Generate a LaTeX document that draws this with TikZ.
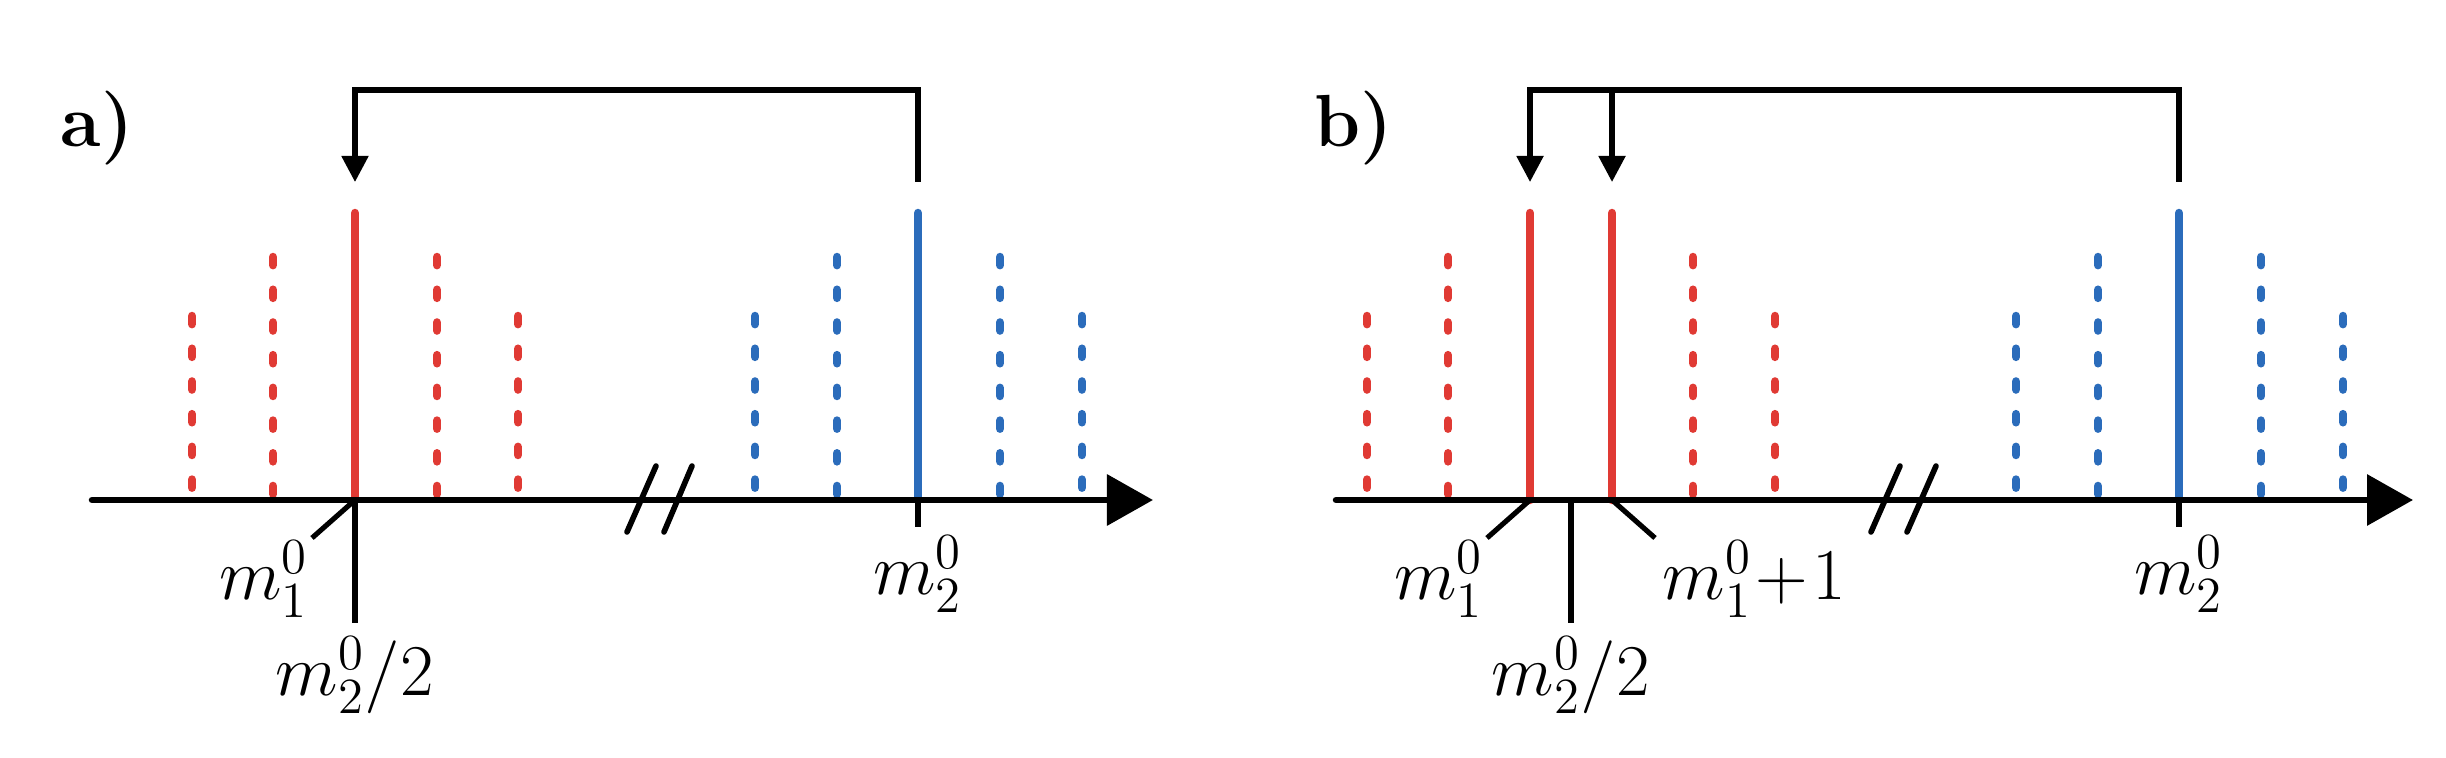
\documentclass[tikz,border=0pt]{standalone}
\usepackage{tikz}
\usetikzlibrary{positioning,arrows.meta}
\definecolor{peakred}{RGB}{224,58,52}
\definecolor{peakblue}{RGB}{43,108,187}

\begin{document}
\begin{tikzpicture}[x=0.01cm,y=-0.01cm,
                      >={Triangle[length=0.26cm,width=0.26cm]},
                      axis/.style={line width=1.85pt,line cap=round,-{Triangle[length=0.46cm,width=0.5cm]}},
                      breakmark/.style={line width=1.6pt,line cap=round},
                      peak/.style={line width=2.4pt,line cap=round},
                      sidepeak/.style={peak,dash pattern=on 2.33pt off 6.97pt},
                      feed/.style={line width=1.45pt,->},
                      tick/.style={line width=1.45pt},
                      lbl/.style={inner sep=0pt,font={\fontsize{21}{25}\selectfont}},
                      panel/.style={lbl,font={\fontsize{21}{25}\selectfont\bfseries}}]
    \useasboundingbox (0,0) rectangle (2446,758);
    % panel a
    \node[panel] (a-name) at (97,128) {a)};
    \node[coordinate] (a-axis-start) at (92,500) {};
    \node[coordinate] (a-axis-end) at (1153,500) {};
    \node[coordinate] (a-m1) at (355,500) {};
    \node[coordinate] (a-m2) at (918,500) {};
    \node[coordinate] (a-m1-leader) at (312,538) {};
    \node[coordinate] (a-half-end) at (355,623) {};
    \node[coordinate] (a-m2-end) at (918,527) {};
    \node[coordinate] (a-top-left) at (355,90) {};
    \node[coordinate] (a-top-right) at (918,90) {};
    \node[coordinate] (a-red-feed) at (355,182) {};
    \node[coordinate] (a-blue-feed) at (918,182) {};
    \draw[sidepeak,peakred] (192,316) -- (192,500);
    \draw[sidepeak,peakred] (273,257) -- (273,500);
    \draw[peak,peakred] (355,213) -- (a-m1);
    \draw[sidepeak,peakred] (437,257) -- (437,500);
    \draw[sidepeak,peakred] (518,316) -- (518,500);
    \draw[sidepeak,peakblue] (755,316) -- (755,500);
    \draw[sidepeak,peakblue] (837,257) -- (837,500);
    \draw[peak,peakblue] (918,213) -- (a-m2);
    \draw[sidepeak,peakblue] (1000,257) -- (1000,500);
    \draw[sidepeak,peakblue] (1082,316) -- (1082,500);
    \draw[axis] (a-axis-start) -- (a-axis-end);
    \draw[breakmark] (627,532) -- (656,466);
    \draw[breakmark] (664,532) -- (692,466);
    \draw[feed] (a-blue-feed) -- (a-top-right) -- (a-top-left) -- (a-red-feed);
    \draw[tick] (a-m1) -- (a-half-end);
    \draw[tick] (a-m1) -- (a-m1-leader);
    \draw[tick] (a-m2) -- (a-m2-end);
    \node[lbl,anchor=north east] (a-m1-label) at (309,540) {$m_1^0$};
    \node[lbl,below=0.13cm of a-half-end] (a-half-label) {$m_2^0/2$};
    \node[lbl,below=0.08cm of a-m2-end] (a-m2-label) {$m_2^0$};
    % panel b
    \node[panel] (b-name) at (1354,128) {b)};
    \node[coordinate] (b-axis-start) at (1336,500) {};
    \node[coordinate] (b-axis-end) at (2413,500) {};
    \node[coordinate] (b-m1) at (1530,500) {};
    \node[coordinate] (b-m1-next) at (1612,500) {};
    \node[coordinate] (b-half) at (1571,500) {};
    \node[coordinate] (b-m2) at (2179,500) {};
    \node[coordinate] (b-m1-leader) at (1487,538) {};
    \node[coordinate] (b-next-leader) at (1655,538) {};
    \node[coordinate] (b-half-end) at (1571,623) {};
    \node[coordinate] (b-m2-end) at (2179,527) {};
    \node[coordinate] (b-top-left) at (1530,90) {};
    \node[coordinate] (b-top-mid) at (1612,90) {};
    \node[coordinate] (b-top-right) at (2179,90) {};
    \node[coordinate] (b-red-feed) at (1530,182) {};
    \node[coordinate] (b-next-feed) at (1612,182) {};
    \node[coordinate] (b-blue-feed) at (2179,182) {};
    \draw[sidepeak,peakred] (1367,316) -- (1367,500);
    \draw[sidepeak,peakred] (1448,257) -- (1448,500);
    \draw[peak,peakred] (1530,213) -- (b-m1);
    \draw[peak,peakred] (1612,213) -- (b-m1-next);
    \draw[sidepeak,peakred] (1693,257) -- (1693,500);
    \draw[sidepeak,peakred] (1775,316) -- (1775,500);
    \draw[sidepeak,peakblue] (2016,316) -- (2016,500);
    \draw[sidepeak,peakblue] (2098,257) -- (2098,500);
    \draw[peak,peakblue] (2179,213) -- (b-m2);
    \draw[sidepeak,peakblue] (2261,257) -- (2261,500);
    \draw[sidepeak,peakblue] (2343,316) -- (2343,500);
    \draw[axis] (b-axis-start) -- (b-axis-end);
    \draw[breakmark] (1871,532) -- (1900,466);
    \draw[breakmark] (1907,532) -- (1936,466);
    \draw[feed] (b-blue-feed) -- (b-top-right) -- (b-top-left) -- (b-red-feed);
    \draw[feed] (b-top-mid) -- (b-next-feed);
    \draw[tick] (b-half) -- (b-half-end);
    \draw[tick] (b-m1) -- (b-m1-leader);
    \draw[tick] (b-m1-next) -- (b-next-leader);
    \draw[tick] (b-m2) -- (b-m2-end);
    \node[lbl,anchor=north east] (b-m1-label) at (1484,540) {$m_1^0$};
    \node[lbl,anchor=north west] (b-next-label) at (1662,540) {$m_1^0\!+\!1$};
    \node[lbl,below=0.13cm of b-half-end] (b-half-label) {$m_2^0/2$};
    \node[lbl,below=0.08cm of b-m2-end] (b-m2-label) {$m_2^0$};
  \end{tikzpicture}
\end{document}
